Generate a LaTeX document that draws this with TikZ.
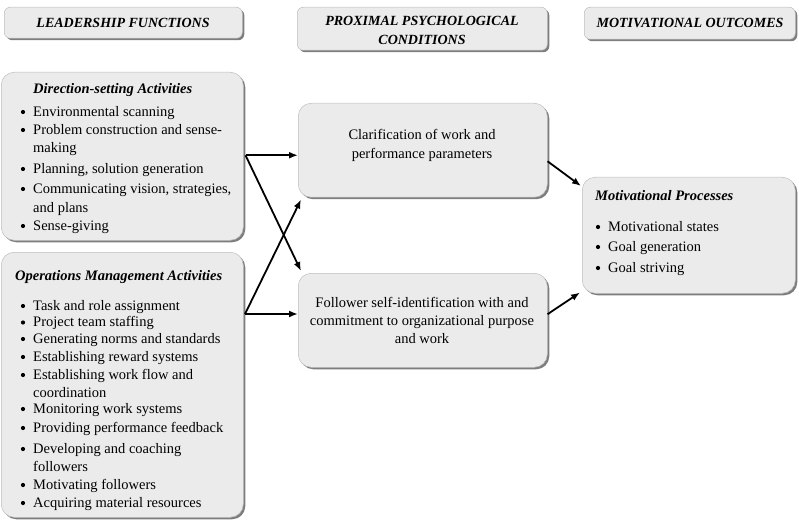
\documentclass[tikz,border=0pt]{standalone}
\usepackage{fontspec}
\setmainfont{Liberation Serif}
\usetikzlibrary{arrows.meta,shadows}
\definecolor{boxfill}{HTML}{EBEBEB}
\definecolor{boxline}{HTML}{BDBDBD}
\definecolor{boxshade}{HTML}{7E7E7E}
\tikzset{
  panel/.style={draw=boxline, line width=0.5pt, fill=boxfill, rounded corners=13pt,
    anchor=north west, inner sep=0pt,
    drop shadow={shadow xshift=2pt, shadow yshift=-2pt, fill=boxshade, opacity=1}},
  header/.style={panel, rounded corners=6pt},
  headtext/.style={font=\fontsize{14}{19}\selectfont\bfseries\itshape, align=center, inner sep=0pt},
  item/.style={font=\fontsize{14.5}{17}\selectfont, anchor=mid west, inner sep=0pt,
    text height=10pt, text depth=3pt},
  ctext/.style={font=\fontsize{14.5}{17}\selectfont, anchor=mid, inner sep=0pt,
    text height=10pt, text depth=3pt},
  title/.style={item, font=\fontsize{14.5}{17}\selectfont\bfseries\itshape},
  dot/.style={fill=black},
  arr/.style={line width=1.8pt, -{Latex[length=9pt,width=7pt]}},
}
\begin{document}
\begin{tikzpicture}[x=1pt,y=-1pt]
\useasboundingbox (0,0) rectangle (799,521);

% column headers
\node[header, minimum width=238, minimum height=31] (hlf) at (4,7) {};
\node[header, minimum width=250, minimum height=43] (hpc) at (297,7) {};
\node[header, minimum width=211, minimum height=32] (hmo) at (584,7) {};
\node[headtext] (tlf) at (123,23) {LEADERSHIP FUNCTIONS};
\node[headtext] (tpc) at (422,30) {PROXIMAL PSYCHOLOGICAL\\CONDITIONS};
\node[headtext] (tmo) at (690,23) {MOTIVATIONAL OUTCOMES};

% leadership function panels
\node[panel, minimum width=242, minimum height=168] (ds) at (1,72) {};
\node[panel, minimum width=242, minimum height=265] (om) at (1,252) {};

% psychological condition panels
\node[panel, minimum width=249, minimum height=94] (cl) at (298,103) {};
\node[panel, minimum width=249, minimum height=94] (fo) at (298,273) {};

% outcome panel
\node[panel, minimum width=213, minimum height=116] (mp) at (582,177) {};

% direction-setting activities
\node[title] (dst) at (33,91) {Direction-setting Activities};
\foreach \y/\t [count=\i] in {114/{Environmental scanning},
    132/{Problem construction and sense-},
    171/{Planning, solution generation},
    191/{Communicating vision, strategies,},
    228/{Sense-giving}}
  {\node[item] (ds\i) at (33,\y) {\t};
   \fill[dot] ([shift={(-10pt,2pt)}]ds\i.mid west) circle (2.1);}
\node[item] (dsc1) at (33,150) {making};
\node[item] (dsc2) at (33,210) {and plans};

% operations management activities
\node[title] (omt) at (15,278) {Operations Management Activities};
\foreach \y/\t [count=\i] in {308/{Task and role assignment},
    324.5/{Project team staffing},
    341/{Generating norms and standards},
    359/{Establishing reward systems},
    377/{Establishing work flow and},
    411/{Monitoring work systems},
    430/{Providing performance feedback},
    451/{Developing and coaching},
    487/{Motivating followers},
    505/{Acquiring material resources}}
  {\node[item] (om\i) at (33,\y) {\t};
   \fill[dot] ([shift={(-10pt,2pt)}]om\i.mid west) circle (2.1);}
\node[item] (omc1) at (33,395) {coordination};
\node[item] (omc2) at (33,469) {followers};

% psychological conditions
\node[ctext] (cl1) at (422,137) {Clarification of work and};
\node[ctext] (cl2) at (422,156) {performance parameters};
\node[ctext] (fo1) at (422,305) {Follower self-identification with and};
\node[ctext] (fo2) at (422,323) {commitment to organizational purpose};
\node[ctext] (fo3) at (422,341) {and work};

% motivational processes
\node[title] (mpt) at (595,198) {Motivational Processes};
\foreach \y/\t [count=\i] in {229/{Motivational states},
    249/{Goal generation},
    270/{Goal striving}}
  {\node[item] (mp\i) at (608,\y) {\t};
   \fill[dot] ([shift={(-10pt,2pt)}]mp\i.mid west) circle (2.1);}

% connectors
\path ([xshift=2pt]ds.east) ++(0,-1) coordinate (j1);
\coordinate (j2) at (245,314);
\draw[arr] (j1) -- (j1 -| cl.west);
\draw[arr] (j1) -- ([shift={(3pt,2pt)}]fo.north west);
\draw[arr] (j2) -- (j2 -| fo.west);
\draw[arr] (j2) -- ([shift={(3pt,-2pt)}]cl.south west);
\path (cl.east) ++(0,11) coordinate (c1);
\path (fo.east) ++(0,-6) coordinate (c2);
\draw[arr] (c1) -- ([shift={(-1pt,-9pt)}]mp.north west);
\draw[arr] (c2) -- ([shift={(-2pt,1pt)}]mp.south west);
\end{tikzpicture}
\end{document}
